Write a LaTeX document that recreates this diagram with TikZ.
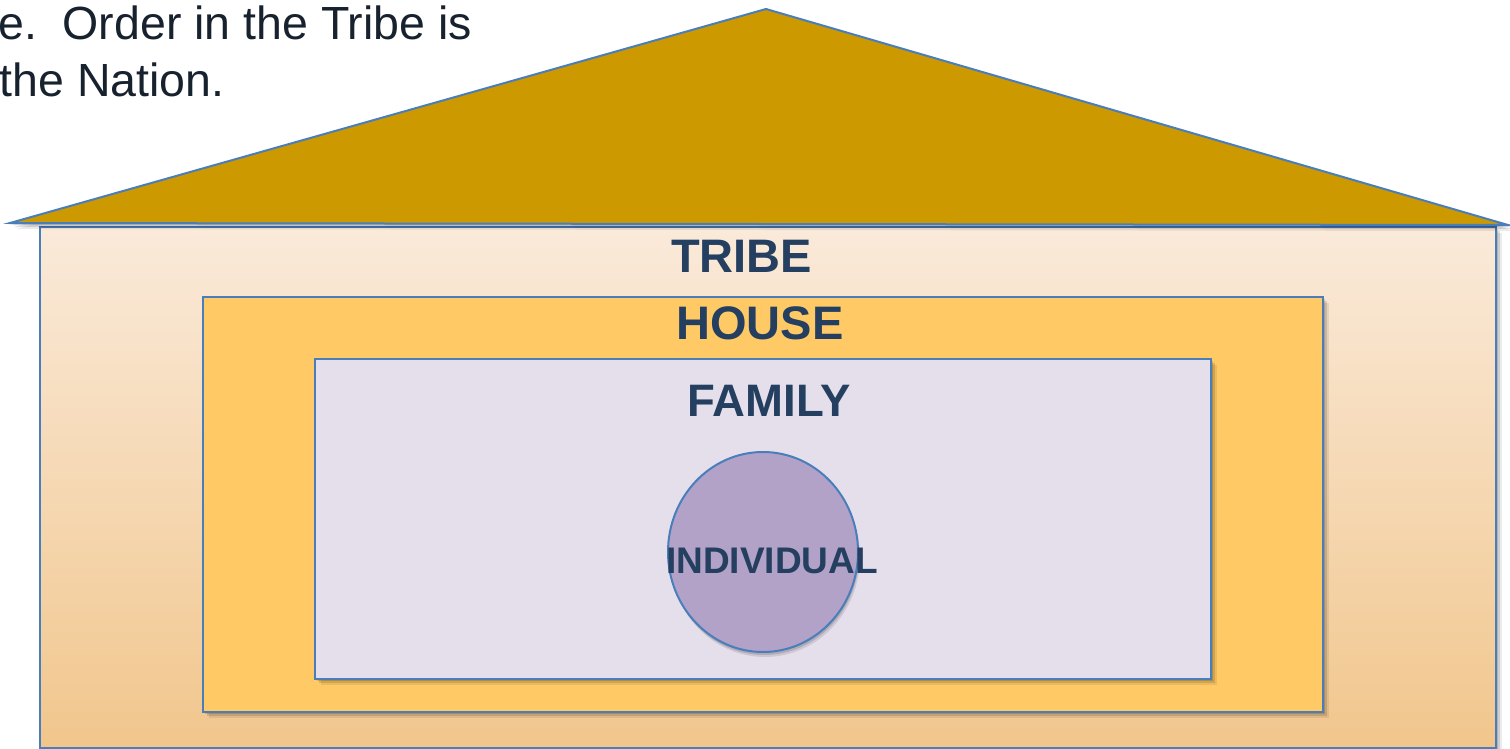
\documentclass[tikz,border=0pt]{standalone}
\usepackage{fontspec}
\setmainfont{Liberation Sans}
\usetikzlibrary{shadows,shapes.geometric}
\definecolor{edgeblue}{HTML}{4A7EBB}
\definecolor{roofgold}{HTML}{CC9900}
\definecolor{tribetop}{HTML}{FAEADA}
\definecolor{tribebot}{HTML}{F1C68C}
\definecolor{housefill}{HTML}{FFCA66}
\definecolor{familyfill}{HTML}{E5DFEC}
\definecolor{indfill}{HTML}{B3A2C7}
\definecolor{navy}{HTML}{243F60}
\definecolor{topink}{HTML}{18222F}
\begin{document}
\begin{tikzpicture}[x=1pt,y=-1pt,
  boxshadow/.style={
    drop shadow={shadow xshift=2pt,shadow yshift=-2pt,opacity=0.14,fill=black},
    drop shadow={shadow xshift=4pt,shadow yshift=-4pt,opacity=0.12,fill=black},
    drop shadow={shadow xshift=6pt,shadow yshift=-6pt,opacity=0.08,fill=black}},
  edge/.style={draw=edgeblue,line width=2pt},
  levellabel/.style={inner sep=0pt,text=navy,font=\fontsize{47}{50}\selectfont\bfseries},
  toptext/.style={inner sep=0pt,text=topink,font=\fontsize{46.5}{55}\selectfont,anchor=base west}]
\useasboundingbox (0,0) rectangle (1510,749);
% tribe body
\path[edge,top color=tribetop,bottom color=tribebot,boxshadow] (40,227) rectangle (1496,748);
% roof
\path[edge,fill=roofgold,boxshadow] (10,223) -- (766,9) -- (1508,225) -- cycle;
% house
\path[edge,fill=housefill,boxshadow] (203,297) rectangle (1323,712);
% family
\path[edge,fill=familyfill,boxshadow] (315,359) rectangle (1211,679);
% individual
\node[ellipse,minimum width=190pt,minimum height=200pt,inner sep=0pt,edge,fill=indfill,
  drop shadow={shadow xshift=1pt,shadow yshift=-3pt,opacity=0.14,fill=black},
  drop shadow={shadow xshift=2pt,shadow yshift=-5pt,opacity=0.1,fill=black}] (ind) at (763,552) {};
% labels
\node[levellabel] (tribe) at (741.5,256) {TRIBE};
\node[levellabel] (house) at (760,323.5) {HOUSE};
\node[levellabel,font=\fontsize{45.5}{50}\selectfont\bfseries] (family) at (769,401) {FAMILY};
\node[levellabel,font=\fontsize{37}{40}\selectfont\bfseries] (indl) at (772,560.5) {INDIVIDUAL};
% top text
\node[toptext] (t1) at (-2,40) {e.\ \ Order in the Tribe is};
\node[toptext] (t2) at (-0.5,97) {the Nation.};
\end{tikzpicture}
\end{document}
